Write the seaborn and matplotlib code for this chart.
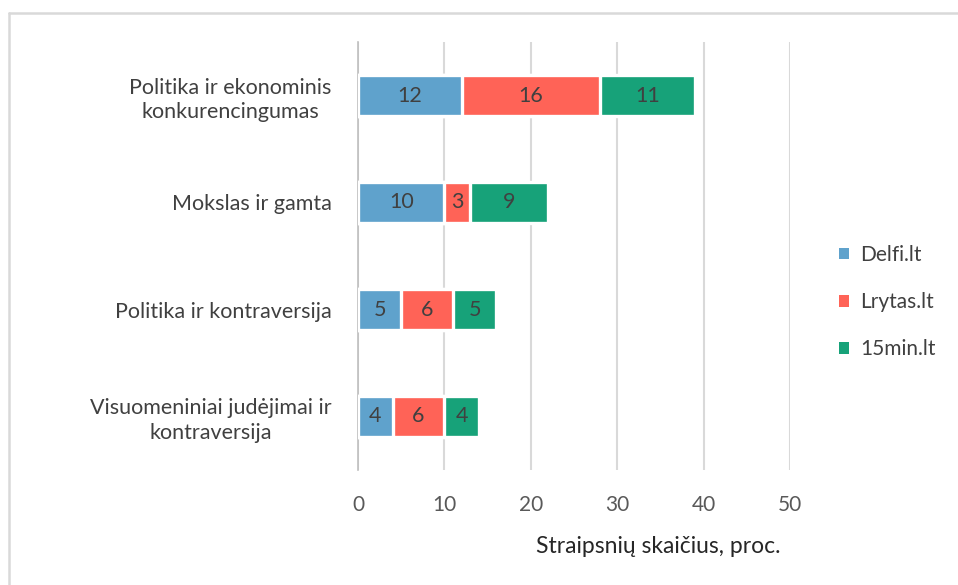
import matplotlib
matplotlib.use("Agg")
import matplotlib.pyplot as plt
from matplotlib.lines import Line2D
from matplotlib.patches import Patch
import seaborn as sns
import pandas as pd
import numpy as np

categories = ["Politika ir ekonominis\nkonkurencingumas",
              "Mokslas ir gamta",
              "Politika ir kontraversija",
              "Visuomeniniai judėjimai ir\nkontraversija"]
series = ["Delfi.lt", "Lrytas.lt", "15min.lt"]
delfi = [12, 10, 5, 4]
lrytas = [16, 3, 6, 6]
min15 = [11, 9, 5, 4]
colors = ["#5FA2CC", "#FF6357", "#17A279"]

sns.set_theme(style="white")
plt.rcParams['font.family'] = ['Lato', 'DejaVu Sans']

df = pd.DataFrame({"cat": categories, "Delfi.lt": delfi,
                   "Lrytas.lt": lrytas, "15min.lt": min15})
vals = df[series].to_numpy()
cum = vals.cumsum(axis=1)

fig = plt.figure(figsize=(9.58, 5.85), dpi=100)
ax = fig.add_axes([358 / 958, 1 - 470 / 585, 432 / 958, 428 / 585])

# stacked: draw cumulative totals from largest to smallest
for j in reversed(range(len(series))):
    sns.barplot(x=cum[:, j], y=df["cat"], orient="h", color=colors[j],
                width=0.39, edgecolor="white", linewidth=2.4, ax=ax,
                saturation=1, zorder=3)

for i in range(len(categories)):
    for j in range(len(series)):
        left = cum[i, j] - vals[i, j]
        ax.text(left + vals[i, j] / 2, i, str(vals[i, j]), ha="center",
                va="center", fontsize=15.5, color="#404040", zorder=4)

ax.set_xlim(0, 50)
ax.set_ylim(3.5, -0.5)
ax.set_xticks(range(0, 51, 10))
ax.grid(axis="x", color="#D9D9D9", linewidth=1.5, zorder=0)
ax.set_axisbelow(True)
for s in ["top", "right", "bottom"]:
    ax.spines[s].set_visible(False)
ax.spines["left"].set_color("#BFBFBF")
ax.spines["left"].set_linewidth(1.2)

ax.tick_params(axis="y", which="major", length=0, pad=19, labelsize=15.5,
               labelcolor="#404040")
ax.set_yticks(np.arange(-0.5, 4, 1), minor=True)
ax.tick_params(axis="y", which="minor", length=5, width=1.2, color="#BFBFBF",
               direction="out")
for lab in ax.get_yticklabels():
    lab.set_multialignment("center")
    lab.set_linespacing(1.3)
ax.tick_params(axis="x", length=0, pad=18, labelsize=15, labelcolor="#595959")

ax.set_ylabel("")
ax.set_xlabel("Straipsnių skaičius, proc.", fontsize=16.5, color="#262626")
ax.xaxis.set_label_coords((658 - 358) / 432, -0.155)

handles = [Patch(facecolor=c, edgecolor="none") for c in colors]
fig.legend(handles, series, loc="center left", bbox_to_anchor=(820 / 958, 1 - 302 / 585),
           frameon=False, fontsize=15, labelcolor="#404040", handlelength=0.5,
           handleheight=0.5, handletextpad=0.55, labelspacing=1.3)

# outer frame (only top and left edges visible)
fig.lines.append(Line2D([9 / 958, 1], [1 - 13 / 585, 1 - 13 / 585],
                        transform=fig.transFigure, color="#D9D9D9", linewidth=1.8))
fig.lines.append(Line2D([9 / 958, 9 / 958], [0, 1 - 13 / 585],
                        transform=fig.transFigure, color="#D9D9D9", linewidth=1.8))

fig.savefig("out.png", dpi=100)
